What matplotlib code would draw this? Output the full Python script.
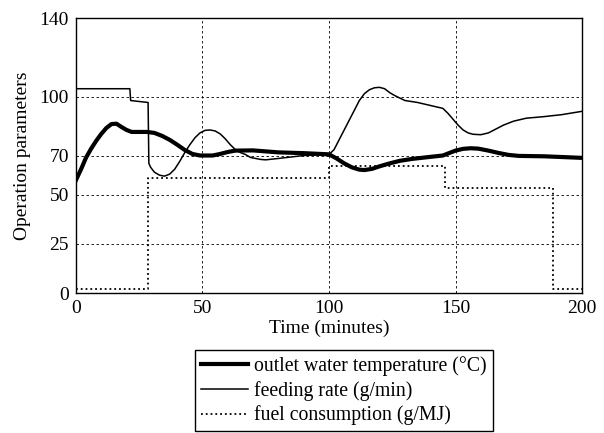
import matplotlib
matplotlib.use("Agg")
import matplotlib.pyplot as plt

# feeding rate (g/min)
feed_t = [0, 21.3, 21.6, 25, 28.5, 28.8, 29.5, 31, 33, 35, 37, 39, 41, 43, 45, 47, 49, 51, 53, 55, 57, 59,
          61, 63, 65, 67, 69, 71, 73, 75, 80, 90, 100, 102, 104, 106, 108, 110, 112, 114, 116, 118, 120,
          122, 124, 126, 130, 135, 140, 145, 147, 149, 151, 153, 155, 157, 160, 163, 166, 169, 173,
          178, 185, 192, 200]
feed_v = [104, 104, 98, 97.5, 97, 66, 64, 61.5, 60, 59.5, 60.5, 63, 67, 71.5, 75.5, 79, 81.5, 82.8, 83, 82.5,
          81, 78.5, 75.5, 73, 71.5, 70.5, 69, 68.5, 68, 67.8, 68.5, 70, 70.5, 73, 78, 83, 88, 93, 98,
          101.5, 103.5, 104.5, 104.7, 104, 102, 100.5, 98, 97, 95.5, 94, 91.5, 88.5, 85.5, 83, 81.5,
          80.8, 80.6, 81.5, 83.5, 85.5, 87.5, 89, 89.8, 90.8, 92.5]

# outlet water temperature (C)
temp_t = [0, 2, 4, 6, 8, 10, 12, 14, 16, 18, 20, 22, 28, 31, 34, 37, 40, 43, 46, 49, 54, 57, 60, 63,
          70, 80, 90, 100, 103, 106, 109, 112, 114, 117, 120, 124, 128, 133, 140, 145, 147, 150, 153,
          156, 159, 163, 167, 171, 175, 185, 200]
temp_v = [57.5, 63, 69, 73.5, 77.5, 81, 84, 86, 86.2, 84.5, 83, 82, 82, 81.5, 80, 78, 75.5, 72.8, 70.8,
          70, 70, 70.8, 71.8, 72.5, 72.6, 71.6, 71.2, 70.6, 68.5, 66, 64, 62.8, 62.6, 63.2, 64.5, 66,
          67.3, 68.3, 69.3, 70, 71, 72.5, 73.4, 73.7, 73.5, 72.5, 71.3, 70.3, 69.8, 69.6, 68.8]

# fuel consumption (g/MJ), step changes
fuel_t = [0, 28.6, 100, 146, 188.7, 200]
fuel_v = [2, 58.5, 64.8, 53.6, 2, 2]

xticks = [0, 50, 100, 150, 200]
yticks = [0, 25, 50, 70, 100, 140]

plt.rcParams['font.family'] = ['Liberation Serif', 'DejaVu Serif']

fig = plt.figure(figsize=(6.04, 4.33), dpi=100)
ax = fig.add_axes([0.1258, 0.3233, 0.8378, 0.6351])

ax.plot(temp_t, temp_v, color='black', lw=3.0, label='outlet water temperature (\u00b0C)')
ax.plot(feed_t, feed_v, color='black', lw=1.1, label='feeding rate (g/min)')
ax.plot(fuel_t, fuel_v, color='black', lw=1.3, ls=':', drawstyle='steps-post',
        label='fuel consumption (g/MJ)')

ax.set_xlim(0, 200)
ax.set_ylim(0, 140)
ax.set_xticks(xticks)
ax.set_yticks(yticks)
ax.tick_params(length=0, labelsize=14, pad=5)
ax.grid(True, color='black', ls=(0, (3, 3)), lw=0.6)
for s in ax.spines.values():
    s.set_color('black')
    s.set_linewidth(1)

ax.set_xlabel("Time (minutes)", fontsize=14, labelpad=2)
ax.set_ylabel("Operation parameters", fontsize=14, labelpad=6)

leg = fig.legend(loc='upper left', bbox_to_anchor=(195 / 604, 1 - 350 / 433),
                 fontsize=14.2, fancybox=False, edgecolor='black', framealpha=1,
                 handlelength=2.4, handletextpad=0.3, labelspacing=0.25,
                 borderaxespad=0, borderpad=0.3)
leg.get_frame().set_linewidth(1)

fig.savefig("out.png", dpi=100)
